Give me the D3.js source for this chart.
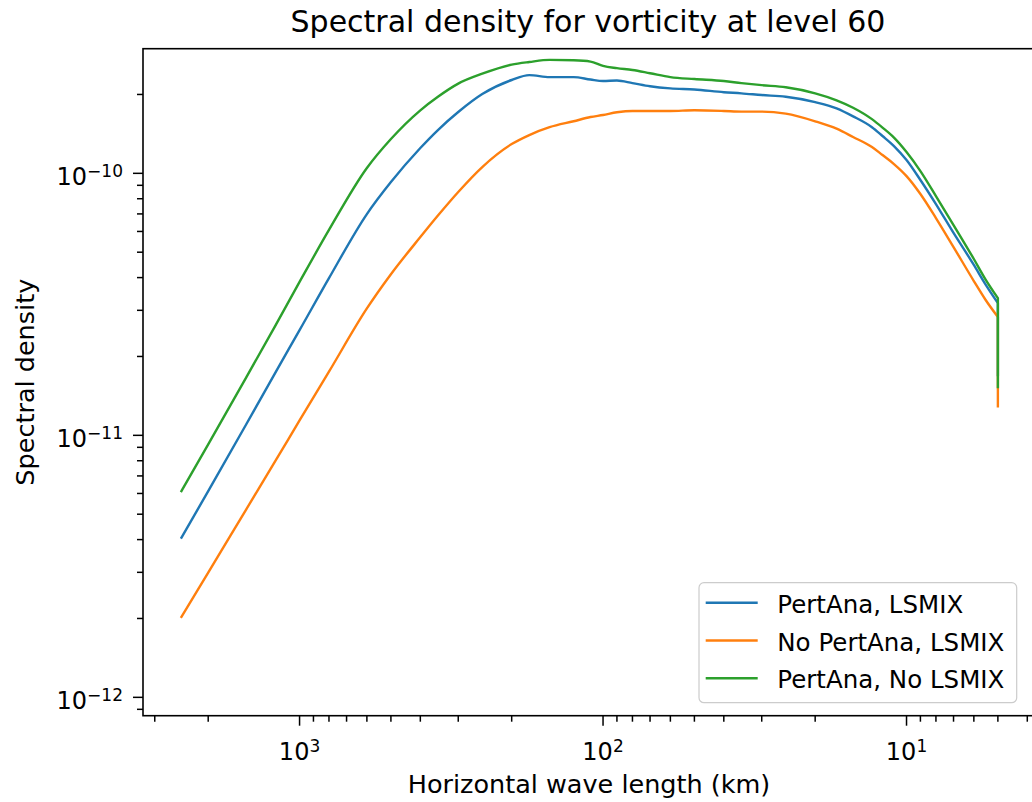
<!DOCTYPE html>
<html>
<head>
<meta charset="utf-8">
<script src="https://cdn.jsdelivr.net/npm/d3@7"></script>
<style>
  html, body { margin: 0; padding: 0; background: #fff; }
  svg { display: block; }
  text { font-family: "DejaVu Sans", sans-serif; fill: #000; }
</style>
</head>
<body>
<svg id="chart" width="1032" height="802"></svg>
<script>
// ---- data ----
const wavelength = [2450, 2000, 1500, 1200, 1000, 800, 600, 500, 400, 350, 300, 250, 200, 175, 150, 125, 110, 100,
  90, 80, 70, 60, 50, 40, 35, 30, 25, 20, 17, 15, 13, 12, 11, 10, 9, 8, 7, 6, 5.5, 5, 5];

const pertAnaLsmix = [4.07e-12, 6.12e-12, 1.10e-11, 1.74e-11, 2.52e-11, 3.98e-11, 6.99e-11, 9.26e-11, 1.249e-10, 1.463e-10,
  1.714e-10, 2.007e-10, 2.271e-10, 2.37e-10, 2.33e-10, 2.33e-10, 2.28e-10, 2.25e-10,
  2.26e-10, 2.21e-10, 2.15e-10, 2.11e-10, 2.09e-10, 2.04e-10, 2.02e-10, 1.99e-10, 1.96e-10, 1.87e-10, 1.77e-10, 1.65e-10,
  1.50e-10, 1.388e-10, 1.271e-10, 1.124e-10, 9.43e-11, 7.63e-11, 5.92e-11, 4.47e-11, 3.78e-11, 3.20e-11, 1.70e-11];

const noPertAnaLsmix = [2.03e-12, 2.99e-12, 5.21e-12, 8.00e-12, 1.14e-11, 1.75e-11, 3.05e-11, 4.12e-11, 5.71e-11, 6.90e-11,
  8.49e-11, 1.057e-10, 1.293e-10, 1.40e-10, 1.50e-10, 1.58e-10, 1.64e-10, 1.67e-10,
  1.71e-10, 1.73e-10, 1.73e-10, 1.73e-10, 1.74e-10, 1.73e-10, 1.72e-10, 1.72e-10, 1.69e-10, 1.58e-10, 1.48e-10, 1.376e-10,
  1.26e-10, 1.174e-10, 1.085e-10, 9.76e-11, 8.34e-11, 6.75e-11, 5.23e-11, 3.88e-11, 3.30e-11, 2.83e-11, 1.29e-11];

const pertAnaNoLsmix = [6.13e-12, 9.23e-12, 1.66e-11, 2.63e-11, 3.85e-11, 6.08e-11, 1.048e-10, 1.352e-10, 1.74e-10, 1.96e-10,
  2.20e-10, 2.40e-10, 2.60e-10, 2.66e-10, 2.71e-10, 2.70e-10, 2.67e-10, 2.57e-10,
  2.52e-10, 2.48e-10, 2.41e-10, 2.33e-10, 2.29e-10, 2.25e-10, 2.21e-10, 2.17e-10, 2.13e-10, 2.02e-10, 1.90e-10, 1.78e-10,
  1.61e-10, 1.495e-10, 1.369e-10, 1.206e-10, 1.02e-10, 8.19e-11, 6.35e-11, 4.71e-11, 3.95e-11, 3.34e-11, 1.53e-11];

const seriesNames = ["PertAna, LSMIX", "No PertAna, LSMIX", "PertAna, No LSMIX"];
const seriesValues = [pertAnaLsmix, noPertAnaLsmix, pertAnaNoLsmix];
const seriesColors = ["#1f77b4", "#ff7f0e", "#2ca02c"];

const xMajorTicks = [1000, 100, 10];
const yMajorTicks = [1e-10, 1e-11, 1e-12];

const titleText = "Spectral density for vorticity at level 60";
const xLabelText = "Horizontal wave length (km)";
const yLabelText = "Spectral density";

// ---- layout ----
const plot = { left: 143, right: 1039, top: 48.7, bottom: 715.7 };
const svg = d3.select("#chart");

const x = d3.scaleLog().domain([3280, 3.66]).range([plot.left, plot.right]);
const y = d3.scaleLog().domain([8.51e-13, 2.99e-10]).range([plot.bottom, plot.top]);

// ---- lines ----
const mono = d3.line().x(d => x(d[0])).y(d => y(d[1])).curve(d3.curveMonotoneX);
const gLines = svg.append("g");

seriesValues.forEach((vals, i) => {
  const pts = wavelength.map((w, j) => [w, vals[j]]);
  const last = pts[pts.length - 1];
  const d = mono(pts.slice(0, -1)) + "L" + x(last[0]) + "," + y(last[1]);
  gLines.append("path")
    .attr("d", d)
    .attr("fill", "none")
    .attr("stroke", seriesColors[i])
    .attr("stroke-width", 2.4)
    .attr("stroke-linejoin", "round")
    .attr("stroke-linecap", "square");
});

// ---- ticks ----
function powLabel(sel, v) {
  const e = Math.round(Math.log10(v));
  sel.append("tspan").text("10");
  sel.append("tspan")
    .attr("dy", -8)
    .style("font-size", "17px")
    .text(e < 0 ? "\u2212" + (-e) : String(e));
}

const gAxes = svg.append("g");
const isMajor = v => Math.abs(Math.log10(v) - Math.round(Math.log10(v))) < 1e-9;

// x ticks
x.ticks().forEach(t => {
  const px = x(t);
  if (px < plot.left - 0.5 || px > plot.right + 0.5) return;
  const major = isMajor(t);
  gAxes.append("line")
    .attr("x1", px).attr("x2", px)
    .attr("y1", plot.bottom).attr("y2", plot.bottom + (major ? 10 : 6))
    .attr("stroke", "#000").attr("stroke-width", 1.5);
});
xMajorTicks.forEach(t => {
  const tx = gAxes.append("text")
    .attr("x", x(t)).attr("y", 760)
    .attr("text-anchor", "middle")
    .style("font-size", "24px");
  powLabel(tx, t);
});

// y ticks
y.ticks().forEach(t => {
  const py = y(t);
  if (py < plot.top - 0.5 || py > plot.bottom + 0.5) return;
  const major = isMajor(t);
  gAxes.append("line")
    .attr("x1", plot.left - (major ? 10 : 6)).attr("x2", plot.left)
    .attr("y1", py).attr("y2", py)
    .attr("stroke", "#000").attr("stroke-width", 1.5);
});
yMajorTicks.forEach(t => {
  const ty = gAxes.append("text")
    .attr("x", 123).attr("y", y(t) + 11.5)
    .attr("text-anchor", "end")
    .style("font-size", "24px");
  powLabel(ty, t);
});

// spines
gAxes.append("rect")
  .attr("x", plot.left).attr("y", plot.top)
  .attr("width", plot.right - plot.left).attr("height", plot.bottom - plot.top)
  .attr("fill", "none").attr("stroke", "#000").attr("stroke-width", 1.6);

// ---- texts ----
svg.append("text")
  .attr("x", 588).attr("y", 31.5)
  .attr("text-anchor", "middle")
  .style("font-size", "30px")
  .text(titleText);

svg.append("text")
  .attr("x", 589).attr("y", 793)
  .attr("text-anchor", "middle")
  .style("font-size", "25.5px")
  .text(xLabelText);

svg.append("text")
  .attr("transform", `translate(34,${(plot.top + plot.bottom) / 2}) rotate(-90)`)
  .attr("text-anchor", "middle")
  .style("font-size", "25.5px")
  .text(yLabelText);

// ---- legend ----
const leg = svg.append("g");
leg.append("rect")
  .attr("x", 699).attr("y", 582.7)
  .attr("width", 317.7).attr("height", 120)
  .attr("rx", 5).attr("ry", 5)
  .attr("fill", "#fff").attr("fill-opacity", 0.8)
  .attr("stroke", "#cccccc").attr("stroke-width", 1.2);
seriesNames.forEach((name, i) => {
  const ly = 602.7 + i * 37.8;
  leg.append("line")
    .attr("x1", 705.7).attr("x2", 757.7)
    .attr("y1", ly).attr("y2", ly)
    .attr("stroke", seriesColors[i]).attr("stroke-width", 2.4);
  leg.append("text")
    .attr("x", 777.3).attr("y", ly + 10)
    .style("font-size", "24.5px")
    .text(name);
});
</script>
</body>
</html>
